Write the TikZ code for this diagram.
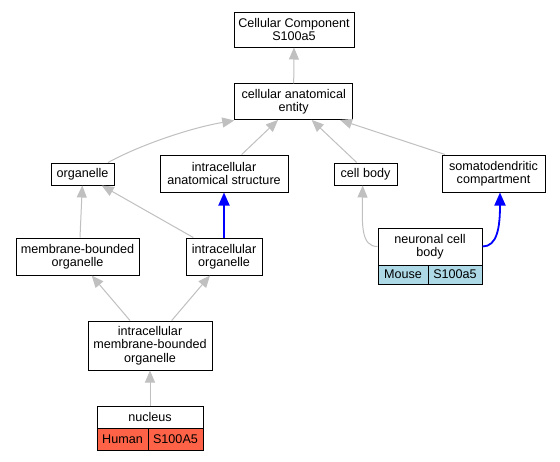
\documentclass[tikz,border=0pt]{standalone}
\usepackage{fontspec}
\setmainfont{Liberation Sans}
\usetikzlibrary{arrows.meta}
\definecolor{edgegray}{HTML}{C0C0C0}
\definecolor{humanfill}{HTML}{FF6347}
\definecolor{mousefill}{HTML}{ADD8E6}
\begin{document}
\begin{tikzpicture}[x=1pt,y=-1pt,
  box/.style={draw=black,line width=1pt,fill=white,inner sep=0pt,align=center,
    font=\fontsize{12.6}{13.4}\selectfont},
  gedge/.style={draw=edgegray,line width=1pt,-{Triangle[length=12pt,width=10pt]},color=edgegray},
  bedge/.style={draw=blue,line width=1.8pt,-{Triangle[length=13pt,width=11pt]},color=blue}]
\useasboundingbox[fill=white] (0,0) rectangle (560,461);
% nodes
\node[box,minimum width=120pt,minimum height=35pt] (cc) at (294,29.5) {Cellular Component\\S100a5};
\node[box,minimum width=118.5pt,minimum height=35.5pt] (cae) at (293.7,101.7) {cellular anatomical\\entity};
\node[box,minimum width=63pt,minimum height=22pt] (org) at (82.5,174) {organelle};
\node[box,minimum width=128pt,minimum height=37pt] (ias) at (224,173.5) {intracellular\\anatomical structure};
\node[box,minimum width=63pt,minimum height=22pt] (cb) at (365.5,174) {cell body};
\node[box,minimum width=103pt,minimum height=37pt] (som) at (493.5,173.5) {somatodendritic\\compartment};
\node[box,minimum width=123pt,minimum height=37pt] (mbo) at (77.5,256.5) {membrane-bounded\\organelle};
\node[box,minimum width=76pt,minimum height=37pt] (io) at (224,256.5) {intracellular\\organelle};
\node[box,minimum width=104pt,minimum height=37pt] (ncb) at (430,246.5) {neuronal cell\\body};
\node[box,fill=mousefill,minimum width=50pt,minimum height=19pt] (mouse) at (403,274.5) {Mouse};
\node[box,fill=mousefill,minimum width=54pt,minimum height=19pt] (mgene) at (455,274.5) {S100a5};
\node[box,minimum width=124pt,minimum height=49pt] (imbo) at (150,345.5) {intracellular\\membrane-bounded\\organelle};
\node[box,minimum width=106pt,minimum height=22pt] (nuc) at (150,417) {nucleus};
\node[box,fill=humanfill,minimum width=51pt,minimum height=22pt] (human) at (122.5,439) {Human};
\node[box,fill=humanfill,minimum width=55pt,minimum height=22pt] (hgene) at (175.5,439) {S100A5};
% edges
\draw[gedge] (cae.north) -- (cc.south);
\draw[gedge] ([xshift=25.5pt]org.north) .. controls (140,145) and (190,128) .. ([xshift=0.3pt,yshift=-0.5pt]cae.south west);
\draw[gedge] ([xshift=17.7pt]ias.north) -- ([xshift=-15.7pt]cae.south);
\draw[gedge] ([xshift=-8.8pt]cb.north) -- ([xshift=18pt]cae.south);
\draw[gedge] ([xshift=-48.5pt]som.north) -- ([xshift=46.3pt]cae.south);
\draw[gedge] ([xshift=2.5pt]mbo.north) -- ([xshift=-0.2pt]org.south);
\draw[gedge] ([xshift=-30.7pt]io.north) -- ([xshift=19.2pt]org.south);
\draw[bedge] (io.north) -- (ias.south);
\draw[gedge] ([xshift=-20pt]imbo.north) -- ([xshift=14.2pt]mbo.south);
\draw[gedge] ([xshift=21.7pt]imbo.north) -- ([xshift=-14pt]io.south);
\draw[gedge] (nuc.north) -- (imbo.south);
\draw[gedge] (ncb.west) .. controls (361,246.5) and (362,225) .. ([xshift=-2.8pt]cb.south);
\draw[bedge] (ncb.east) .. controls (497,246.5) and (500,228) .. ([xshift=6.5pt]som.south);
\end{tikzpicture}
\end{document}
